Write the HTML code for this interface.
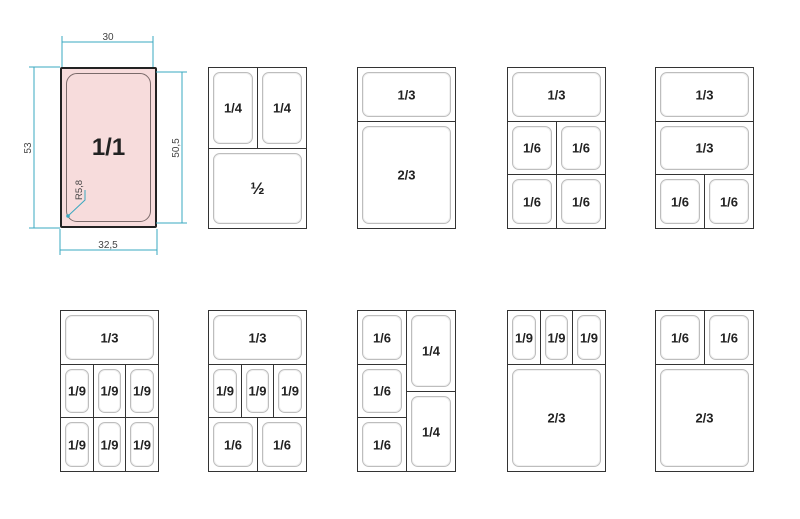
<!DOCTYPE html>
<html><head><meta charset="utf-8"><style>
body{margin:0;width:800px;height:519px;background:#fff;position:relative;overflow:hidden;font-family:"Liberation Sans",sans-serif}
.c{position:absolute;box-sizing:border-box;border:1.4px solid #333;background:#fff}
.i{position:absolute;left:4px;top:4px;right:4px;bottom:4px;border:1.5px solid #bdbdbd;border-radius:7px;box-shadow:inset 0 0 0 1px #f0f0f0}
.t{position:absolute;left:0;right:0;top:50%;transform:translateY(-50%);text-align:center;font-weight:bold;font-size:13px;color:#222}
</style></head><body>
<div id="root"></div>
<svg width="800" height="519" style="position:absolute;left:0;top:0" xmlns="http://www.w3.org/2000/svg">
<g stroke="#3aa8c0" stroke-width="1" fill="none">
<line x1="62" y1="36" x2="62" y2="67"/><line x1="153" y1="36" x2="153" y2="67"/><line x1="62" y1="42" x2="153" y2="42"/>
<line x1="29" y1="67" x2="60" y2="67"/><line x1="29" y1="228" x2="60" y2="228"/><line x1="34" y1="67" x2="34" y2="228"/>
<line x1="156" y1="72" x2="187" y2="72"/><line x1="156" y1="223" x2="187" y2="223"/><line x1="182" y1="72" x2="182" y2="223"/>
<line x1="60" y1="229" x2="60" y2="255"/><line x1="157" y1="229" x2="157" y2="255"/><line x1="60" y1="250" x2="157" y2="250"/>
<polyline points="68,216 85,200 85,190"/>
</g>
<g fill="#3aa8c0"><circle cx="68" cy="216" r="1.8"/></g>
<g font-family="Liberation Sans,sans-serif" font-size="10" fill="#444">
<text x="108" y="40" text-anchor="middle">30</text>
<text x="108" y="248" text-anchor="middle">32,5</text>
<text transform="translate(31,148) rotate(-90)" text-anchor="middle">53</text>
<text transform="translate(179,148) rotate(-90)" text-anchor="middle">50,5</text>
<text transform="translate(82,200) rotate(-90)" text-anchor="start" font-size="9.5">R5,8</text>
</g>
</svg>
<script>
const R=document.getElementById('root');
function cell(x,y,w,h,label,big){
 const d=document.createElement('div');d.className='c';
 d.style.cssText=`left:${x}px;top:${y}px;width:${w}px;height:${h}px`;
 d.innerHTML=`<div class="i"></div><div class="t"${big?' style="font-size:'+big+'px"':''}>${label}</div>`;
 R.appendChild(d);return d;
}
const xs=[60,208,357,507,655],W=98,H=161;
let p=cell(60,67,97,161,'1/1',24);
p.style.background='#f7dcdc';p.style.border='2px solid #222';p.style.borderRadius='2px';
p.querySelector('.i').style.cssText='left:4px;top:4px;right:4px;bottom:4px;border:1.5px solid #7a6a6a;border-radius:11px;box-shadow:none';
const L=[
 null,
 [[0,0,.5,.5,'1/4'],[.5,0,.5,.5,'1/4'],[0,.5,1,.5,'<span style="font-size:17px">½</span>']],
 [[0,0,1,1/3,'1/3'],[0,1/3,1,2/3,'2/3']],
 [[0,0,1,1/3,'1/3'],[0,1/3,.5,1/3,'1/6'],[.5,1/3,.5,1/3,'1/6'],[0,2/3,.5,1/3,'1/6'],[.5,2/3,.5,1/3,'1/6']],
 [[0,0,1,1/3,'1/3'],[0,1/3,1,1/3,'1/3'],[0,2/3,.5,1/3,'1/6'],[.5,2/3,.5,1/3,'1/6']],
];
const L2=[
 [[0,0,1,1/3,'1/3'],[0,1/3,1/3,1/3,'1/9'],[1/3,1/3,1/3,1/3,'1/9'],[2/3,1/3,1/3,1/3,'1/9'],[0,2/3,1/3,1/3,'1/9'],[1/3,2/3,1/3,1/3,'1/9'],[2/3,2/3,1/3,1/3,'1/9']],
 [[0,0,1,1/3,'1/3'],[0,1/3,1/3,1/3,'1/9'],[1/3,1/3,1/3,1/3,'1/9'],[2/3,1/3,1/3,1/3,'1/9'],[0,2/3,.5,1/3,'1/6'],[.5,2/3,.5,1/3,'1/6']],
 [[0,0,.5,1/3,'1/6'],[0,1/3,.5,1/3,'1/6'],[0,2/3,.5,1/3,'1/6'],[.5,0,.5,.5,'1/4'],[.5,.5,.5,.5,'1/4']],
 [[0,0,1/3,1/3,'1/9'],[1/3,0,1/3,1/3,'1/9'],[2/3,0,1/3,1/3,'1/9'],[0,1/3,1,2/3,'2/3']],
 [[0,0,.5,1/3,'1/6'],[.5,0,.5,1/3,'1/6'],[0,1/3,1,2/3,'2/3']],
];
function draw(px,py,lay){
 for(const [a,b,c,d,l] of lay){
  const x=Math.round(px+a*W),y=Math.round(py+b*H);
  const x2=Math.round(px+(a+c)*W),y2=Math.round(py+(b+d)*H);
  cell(x,y,x2-x+1,y2-y+1,l);
 }
}
for(let k=1;k<5;k++)draw(xs[k],67,L[k]);
for(let k=0;k<5;k++)draw(xs[k],310,L2[k]);
</script>
</body></html>
